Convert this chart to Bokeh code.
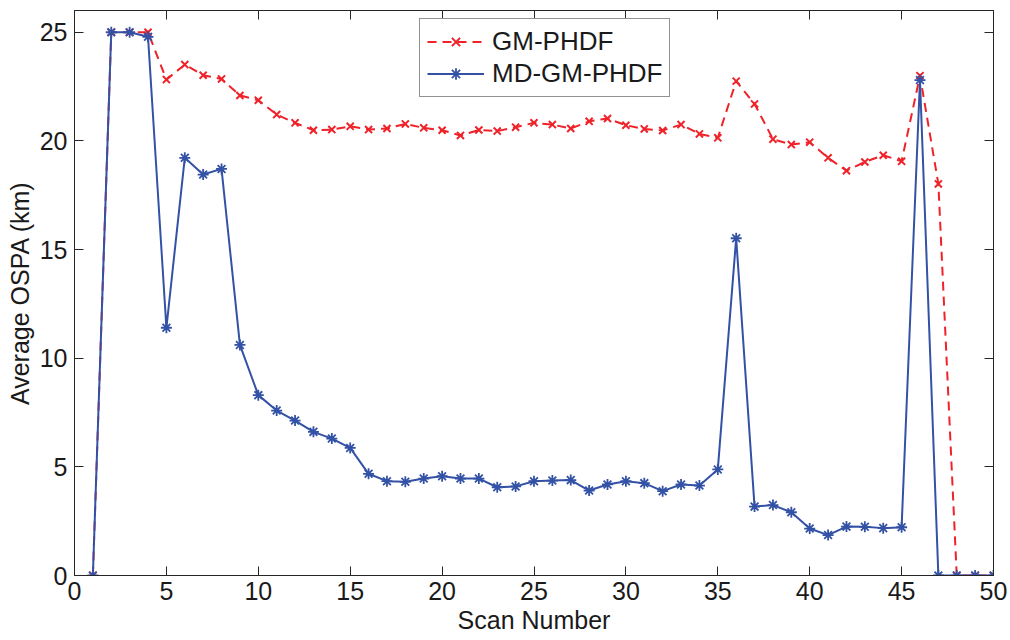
from bokeh.plotting import figure
from bokeh.models import LinearAxis, Range1d, FixedTicker, Legend, LegendItem
from bokeh.embed import file_html
from bokeh.resources import INLINE

scan = list(range(1, 51))
gm_phdf = [0, 25, 25, 25, 22.82, 23.51, 23.02, 22.85, 22.09, 21.87,
           21.21, 20.83, 20.49, 20.52, 20.67, 20.52, 20.57, 20.78, 20.6, 20.49,
           20.25, 20.5, 20.45, 20.63, 20.83, 20.75, 20.57, 20.9, 21.03, 20.72,
           20.55, 20.48, 20.75, 20.32, 20.14, 22.75, 21.7, 20.08, 19.83, 19.94,
           19.22, 18.63, 19.03, 19.34, 19.06, 23.0, 18.02, 0, 0, 0]
md_gm_phdf = [0, 25, 25, 24.79, 11.4, 19.22, 18.45, 18.71, 10.61, 8.3,
              7.59, 7.13, 6.61, 6.3, 5.87, 4.68, 4.34, 4.31, 4.46, 4.57,
              4.46, 4.46, 4.06, 4.1, 4.34, 4.37, 4.39, 3.91, 4.19, 4.34,
              4.25, 3.88, 4.19, 4.14, 4.88, 15.52, 3.17, 3.24, 2.91, 2.16,
              1.86, 2.25, 2.24, 2.18, 2.22, 22.8, 0, 0, 0, 0]
x_ticks = [0, 5, 10, 15, 20, 25, 30, 35, 40, 45, 50]
y_ticks = [0, 5, 10, 15, 20, 25]

FONT = "Liberation Sans"
RED = "#ee2228"
BLUE = "#3352a6"
AX = "#262626"

p = figure(frame_width=919, frame_height=565,
           x_range=Range1d(0, 50), y_range=Range1d(0, 26),
           output_backend="svg", toolbar_location=None,
           min_border_left=74, min_border_top=10, min_border_right=17,
           min_border_bottom=65, background_fill_color="white",
           border_fill_color="white")
p.xgrid.visible = False
p.ygrid.visible = False
p.outline_line_color = AX
p.outline_line_width = 1

p.xaxis.ticker = FixedTicker(ticks=x_ticks)
p.yaxis.ticker = FixedTicker(ticks=y_ticks)
p.xaxis.axis_label = "Scan Number"
p.yaxis.axis_label = "Average OSPA (km)"
for ax in (p.xaxis[0], p.yaxis[0]):
    ax.major_tick_in = 9
    ax.major_tick_out = 0
    ax.minor_tick_line_color = None
    ax.axis_line_color = AX
    ax.major_tick_line_color = AX
    ax.major_label_text_font = FONT
    ax.major_label_text_font_size = "25px"
    ax.major_label_text_color = "#1a1a1a"
    ax.axis_label_text_font = FONT
    ax.axis_label_text_font_size = "25px"
    ax.axis_label_text_font_style = "normal"
    ax.axis_label_text_color = "#1a1a1a"
p.xaxis.major_label_standoff = 6
p.xaxis.axis_label_standoff = 3
p.yaxis.major_label_standoff = 7
p.yaxis.axis_label_standoff = 3

top = LinearAxis(ticker=FixedTicker(ticks=x_ticks), major_tick_in=9, major_tick_out=0,
                 major_label_overrides={t: "" for t in x_ticks}, major_label_standoff=0,
                 minor_tick_line_color=None, axis_line_color=AX, major_tick_line_color=AX)
right = LinearAxis(ticker=FixedTicker(ticks=y_ticks), major_tick_in=9, major_tick_out=0,
                   major_label_overrides={t: "" for t in y_ticks}, major_label_standoff=0,
                   minor_tick_line_color=None, axis_line_color=AX, major_tick_line_color=AX)
p.add_layout(top, "above")
p.add_layout(right, "right")

r1 = p.line(scan, gm_phdf, line_color=RED, line_width=2, line_dash="9 6")
s1 = p.scatter(scan, gm_phdf, marker="x", size=10, line_color=RED, line_width=2)
r2 = p.line(scan, md_gm_phdf, line_color=BLUE, line_width=2)
s2 = p.scatter(scan, md_gm_phdf, marker="asterisk", size=11, line_color=BLUE, line_width=1.8)

legend = Legend(items=[LegendItem(label="GM-PHDF", renderers=[r1, s1]),
                       LegendItem(label="MD-GM-PHDF", renderers=[r2, s2])],
                location=(345, 478), orientation="vertical")
legend.label_text_font = FONT
legend.label_text_font_size = "26px"
legend.label_text_color = "#1a1a1a"
legend.glyph_width = 57
legend.glyph_height = 29
legend.label_height = 29
legend.label_standoff = 8
legend.padding = 7
legend.spacing = 1
legend.margin = 0
legend.border_line_color = AX
legend.border_line_width = 1
legend.background_fill_alpha = 1
p.add_layout(legend, "center")

open("out.html", "w").write(file_html(p, INLINE))
